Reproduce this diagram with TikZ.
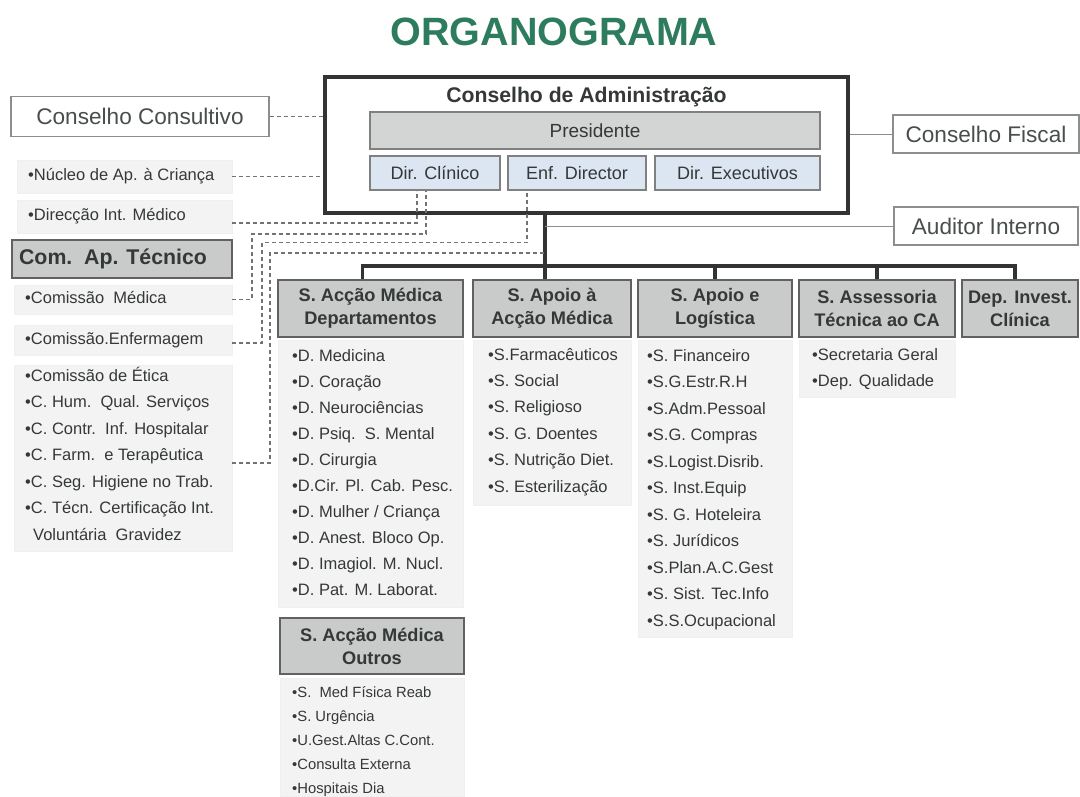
\documentclass[tikz,border=0pt]{standalone}
\usepackage{fontspec}
\setmainfont{Liberation Sans}
\definecolor{titlegreen}{RGB}{44,124,93}
\definecolor{txtgray}{RGB}{72,78,75}
\definecolor{darktxt}{RGB}{52,56,55}
\definecolor{hdrfill}{RGB}{201,202,202}
\definecolor{presfill}{RGB}{211,212,212}
\definecolor{dirfill}{RGB}{220,230,243}
\definecolor{panelfill}{RGB}{243,243,243}
\definecolor{framegray}{RGB}{140,142,141}
\definecolor{trunkgray}{RGB}{50,52,51}
\tikzset{
  outline/.style={draw=framegray, line width=1.2pt, fill=white, text=txtgray,
    font=\fontsize{22.6}{26}\selectfont, inner sep=0pt},
  cabox/.style={draw=trunkgray, line width=4pt, inner sep=0pt},
  presbox/.style={draw=black!50, line width=1.2pt, fill=presfill, text=darktxt,
    font=\fontsize{19}{22}\selectfont, inner sep=0pt},
  dirbox/.style={draw=black!50, line width=1.2pt, fill=dirfill, text=darktxt,
    font=\fontsize{18}{21}\selectfont, minimum height=34pt, inner sep=0pt},
  hdr/.style={draw=black!62, line width=1.6pt, fill=hdrfill, text=darktxt,
    font=\bfseries\fontsize{18.2}{23}\selectfont, align=center,
    minimum height=57pt, inner sep=0pt},
  panel/.style={fill=panelfill, draw=black!6, line width=0.8pt, inner sep=0pt},
  item/.style={anchor=west, inner sep=0pt, text=darktxt,
    font=\fontsize{16.5}{19}\selectfont, text height=11.5pt, text depth=3.5pt},
  trunk/.style={draw=trunkgray, line width=3.5pt},
  thinlink/.style={draw=framegray, line width=1pt},
  dashlink/.style={draw=black!55, line width=1.1pt, dash pattern=on 4pt off 3pt},
}
\begin{document}
\begin{tikzpicture}[x=1pt, y=-1pt]
  \useasboundingbox (0,0) rectangle (1080,796);
  \node[font=\bfseries\fontsize{39.5}{42}\selectfont, text=titlegreen]
    (title) at (554,32) {ORGANOGRAMA};

  % conselho de administracao
  \node[cabox, minimum width=523pt, minimum height=136pt] (ca) at (586.5,145) {};
  \node[font=\bfseries\fontsize{21.2}{24}\selectfont, text=darktxt]
    (catitle) at (586.5,97) {Conselho de Administração};
  \node[presbox, minimum width=450pt, minimum height=37pt] (pres) at (595,130.5) {Presidente};
  \node[dirbox, minimum width=130pt] (clinico) at (435,173) {Dir. Clínico};
  \node[dirbox, minimum width=138pt] (enf) at (577,173) {Enf. Director};
  \node[dirbox, minimum width=165pt] (exec) at (737.5,173) {Dir. Executivos};

  \node[outline, minimum width=258pt, minimum height=40pt] (consultivo) at (140,116.5) {Conselho Consultivo};
  \node[outline, minimum width=186pt, minimum height=38pt] (fiscal) at (986,134) {Conselho Fiscal};
  \node[outline, minimum width=184pt, minimum height=38pt] (auditor) at (986,226) {Auditor Interno};

  % lado esquerdo
  \node[panel, minimum width=215pt, minimum height=33pt] (nucleo) at (124.5,176.5) {};
  \node[item] (nucleo-txt) at (28,176.5) {•Núcleo de Ap. à Criança};
  \node[panel, minimum width=215pt, minimum height=33pt] (direccao) at (124.5,216.5) {};
  \node[item] (direccao-txt) at (28,216.5) {•Direcção Int. Médico};
  \node[hdr, minimum width=220pt, minimum height=38pt, font=\bfseries\fontsize{21.3}{24}\selectfont]
    (comap) at (122,259) {Com.\ \ Ap. Técnico\hspace{18pt}};
  \node[panel, minimum width=218pt, minimum height=29pt] (medica) at (123,299.5) {};
  \node[item] (medica-txt) at (25,299.5) {•Comissão\ \ Médica};
  \node[panel, minimum width=218pt, minimum height=30pt] (enferm) at (123,340) {};
  \node[item] (enferm-txt) at (25,340) {•Comissão.Enfermagem};
  \node[panel, minimum width=218pt, minimum height=186pt] (etica) at (123,458) {};
  \foreach \lbl [count=\i] in {•Comissão de Ética, •C. Hum.\ \ Qual. Serviços,
      •C. Contr.\ \ Inf. Hospitalar, •C. Farm.\ \ e Terapêutica,
      •C. Seg. Higiene no Trab., •C. Técn. Certificação Int.}
    \node[item] (eti-\i) at (25,350.5+26.5*\i) {\lbl};
  \node[item] (voluntaria) at (33,536.5) {Voluntária\ \ Gravidez};

  % departamentos
  \node[hdr, minimum width=185pt] (depart) at (370.5,308.5) {S. Acção Médica\\Departamentos};
  \node[panel, minimum width=185pt, minimum height=267pt] (depart-list) at (370.5,473.5) {};
  \foreach \lbl [count=\i] in {•D. Medicina, •D. Coração, •D. Neurociências,
      •D. Psiq.\ \ S. Mental, •D. Cirurgia, •D.Cir. Pl. Cab. Pesc.,
      •D. Mulher / Criança, •D. Anest. Bloco Op., •D. Imagiol. M. Nucl.,
      •D. Pat. M. Laborat.}
    \node[item] (dep-\i) at (292,330.9+26.1*\i) {\lbl};

  \node[hdr, minimum width=184pt, minimum height=56pt] (outros) at (372,646) {S. Acção Médica\\Outros};
  \node[panel, minimum width=184pt, minimum height=118pt] (outros-list) at (372,737) {};
  \foreach \lbl [count=\i] in {•S.\ \ Med Física Reab, •S. Urgência,
      •U.Gest.Altas C.Cont., •Consulta Externa, •Hospitais Dia}
    \node[item, font=\fontsize{14.8}{17}\selectfont] (out-\i) at (292,669+24*\i) {\lbl};

  \node[hdr, minimum width=158pt] (apoio) at (552,308.5) {S. Apoio à\\Acção Médica};
  \node[panel, minimum width=158pt, minimum height=165pt] (apoio-list) at (552,422.5) {};
  \foreach \lbl [count=\i] in {•S.Farmacêuticos, •S. Social, •S. Religioso,
      •S. G. Doentes, •S. Nutrição Diet., •S. Esterilização}
    \node[item] (apo-\i) at (488,329.6+26.4*\i) {\lbl};

  \node[hdr, minimum width=154pt] (logist) at (715,308.5) {S. Apoio e\\Logística};
  \node[panel, minimum width=154pt, minimum height=297pt] (logist-list) at (715,488.5) {};
  \foreach \lbl [count=\i] in {•S. Financeiro, •S.G.Estr.R.H, •S.Adm.Pessoal,
      •S.G. Compras, •S.Logist.Disrib., •S. Inst.Equip, •S. G. Hoteleira,
      •S. Jurídicos, •S.Plan.A.C.Gest, •S. Sist. Tec.Info, •S.S.Ocupacional}
    \node[item] (log-\i) at (647,330.5+26.5*\i) {\lbl};

  \node[hdr, minimum width=156pt] (assess) at (877,308.5) {S. Assessoria\\Técnica ao CA};
  \node[panel, minimum width=156pt, minimum height=57pt] (assess-list) at (877,368.5) {};
  \foreach \lbl [count=\i] in {•Secretaria Geral, •Dep. Qualidade}
    \node[item] (ass-\i) at (812,329.6+26.4*\i) {\lbl};

  \node[hdr, minimum width=116pt] (invest) at (1020,308.5) {Dep. Invest.\\Clínica};

  % ligacoes
  \coordinate (bus) at (545,266);
  \draw[trunk] (ca.south -| bus) -- (bus |- apoio.north);
  \draw[trunk] ([xshift=-8pt]depart.north) |- (bus) -| ([xshift=-5pt]invest.north);
  \draw[trunk] (logist.north |- bus) -- (logist.north);
  \draw[trunk] (assess.north |- bus) -- (assess.north);
  \draw[thinlink] (fiscal.west) -- (fiscal.west -| ca.east);
  \draw[thinlink] (auditor.west) -- (auditor.west -| bus);

  \draw[dashlink] (consultivo.east) -- (consultivo.east -| ca.west);
  \draw[dashlink] (nucleo.east) -- (nucleo.east -| ca.west);
  \draw[dashlink] ([yshift=-6.5pt]direccao.east) -| ([xshift=-18pt]clinico.south);
  \draw[dashlink] (medica.east) -| (252,234) -| ([xshift=-9pt]clinico.south);
  \draw[dashlink] ([yshift=-3pt]enferm.east) -| (262,242.5) -| ([xshift=-50pt]enf.south);
  \path (eti-4.east -| etica.east) ++(0,6.5) coordinate (farmpt);
  \draw[dashlink] (farmpt) -| (270,253) -- (bus |- 270,253);
\end{tikzpicture}
\end{document}
